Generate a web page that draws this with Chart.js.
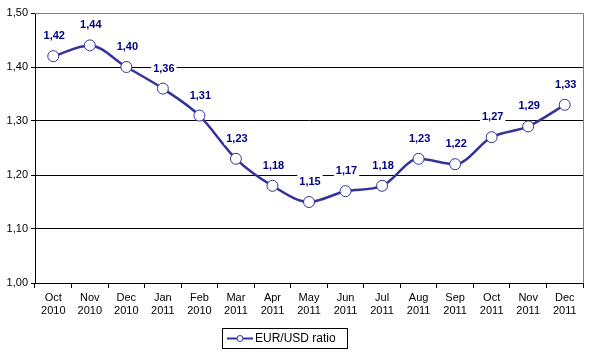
<!DOCTYPE html>
<html><head><meta charset="utf-8">
<script src="https://cdn.jsdelivr.net/npm/chart.js@4"></script>
<style>html,body{margin:0;padding:0;background:#fff}#wrap{width:590px;height:357px;position:relative}</style>
</head><body><div id="wrap"><canvas id="c" width="590" height="357"></canvas></div>
<script>
const months = ["Oct","Nov","Dec","Jan","Feb","Mar","Apr","May","Jun","Jul","Aug","Sep","Oct","Nov","Dec"];
const years = ["2010","2010","2010","2011","2010","2011","2011","2011","2011","2011","2011","2011","2011","2011","2011"];
const ratio = [1.42,1.44,1.40,1.36,1.31,1.23,1.18,1.15,1.17,1.18,1.23,1.22,1.27,1.29,1.33];
const seriesName = "EUR/USD ratio";
const yTicks = [1.00,1.10,1.20,1.30,1.40,1.50];

const FONT = "'Liberation Sans', Arial, sans-serif";
const NAVY = "#333399";

const labelPlugin = {
  id: 'labels',
  afterDatasetsDraw(chart) {
    const ctx = chart.ctx;
    const meta = chart.getDatasetMeta(0);
    ctx.save();
    ctx.font = "bold 11px " + FONT;
    ctx.textAlign = 'center';
    ctx.textBaseline = 'middle';
    meta.data.forEach((pt, i) => {
      const txt = ratio[i].toFixed(2).replace('.', ',');
      const x = pt.x + 1, y = pt.y - 20;
      const w = ctx.measureText(txt).width + 4;
      ctx.fillStyle = '#fff';
      ctx.fillRect(x - w/2, y - 7, w, 13);
      ctx.fillStyle = '#000080';
      ctx.fillText(txt, x, y);
    });
    ctx.restore();
  }
};

const framePlugin = {
  id: 'frame',
  afterDraw(chart) {
    const a = chart.chartArea, ctx = chart.ctx;
    ctx.save();
    ctx.strokeStyle = '#808080';
    ctx.lineWidth = 1;
    ctx.beginPath();
    ctx.moveTo(a.left, a.top + 0.5);
    ctx.lineTo(a.right + 0.5, a.top + 0.5);
    ctx.lineTo(a.right + 0.5, a.bottom);
    ctx.stroke();
    // legend box
    const lx = 222, ly = 328, lw = 125, lh = 20;
    ctx.strokeStyle = '#000';
    ctx.strokeRect(lx + 0.5, ly + 0.5, lw, lh);
    ctx.strokeStyle = NAVY;
    ctx.lineWidth = 2;
    ctx.beginPath();
    ctx.moveTo(227, ly + 10.5);
    ctx.lineTo(253, ly + 10.5);
    ctx.stroke();
    ctx.lineWidth = 1;
    ctx.fillStyle = '#fff';
    ctx.beginPath();
    ctx.arc(240, ly + 10.5, 3, 0, Math.PI * 2);
    ctx.fill();
    ctx.stroke();
    ctx.fillStyle = '#000';
    ctx.font = "12px " + FONT;
    ctx.textAlign = 'left';
    ctx.textBaseline = 'middle';
    ctx.fillText(seriesName, 255, ly + 11);
    ctx.restore();
  }
};

new Chart(document.getElementById('c'), {
  type: 'line',
  data: {
    labels: months.map((m, i) => [m, years[i]]),
    datasets: [{
      label: seriesName,
      data: ratio,
      borderColor: NAVY,
      borderWidth: 2.5,
      tension: 0.35,
      cubicInterpolationMode: 'monotone',
      pointRadius: 5.5,
      pointBackgroundColor: '#fff',
      pointBorderColor: NAVY,
      pointBorderWidth: 1,
      clip: false
    }]
  },
  options: {
    responsive: false,
    animation: false,
    devicePixelRatio: 1,
    layout: { padding: { top: 13, right: 7, left: 0, bottom: 0 } },
    plugins: { legend: { display: false }, tooltip: { enabled: false } },
    scales: {
      x: {
        offset: true,
        grid: { offset: true, drawOnChartArea: false, drawTicks: true, tickLength: 5, color: '#000' },
        border: { color: '#000', width: 1 },
        ticks: { color: '#000', font: { family: FONT, size: 11 }, padding: 3, maxRotation: 0, autoSkip: false },
        afterFit(s) { s.height = 74; }
      },
      y: {
        min: 1.0, max: 1.5,
        afterBuildTicks(s) { s.ticks = yTicks.map(v => ({ value: v })); },
        grid: {
          color: (c) => c.tick && c.tick.value === 1.5 ? '#808080' : '#000',
          tickLength: 4,
          tickColor: '#000'
        },
        border: { color: '#000', width: 1 },
        ticks: {
          color: '#000', font: { family: FONT, size: 11 }, padding: 3,
          callback: (v) => Number(v).toFixed(2).replace('.', ',')
        },
        afterFit(s) { s.width = 35; }
      }
    }
  },
  plugins: [labelPlugin, framePlugin]
});
</script></body></html>
